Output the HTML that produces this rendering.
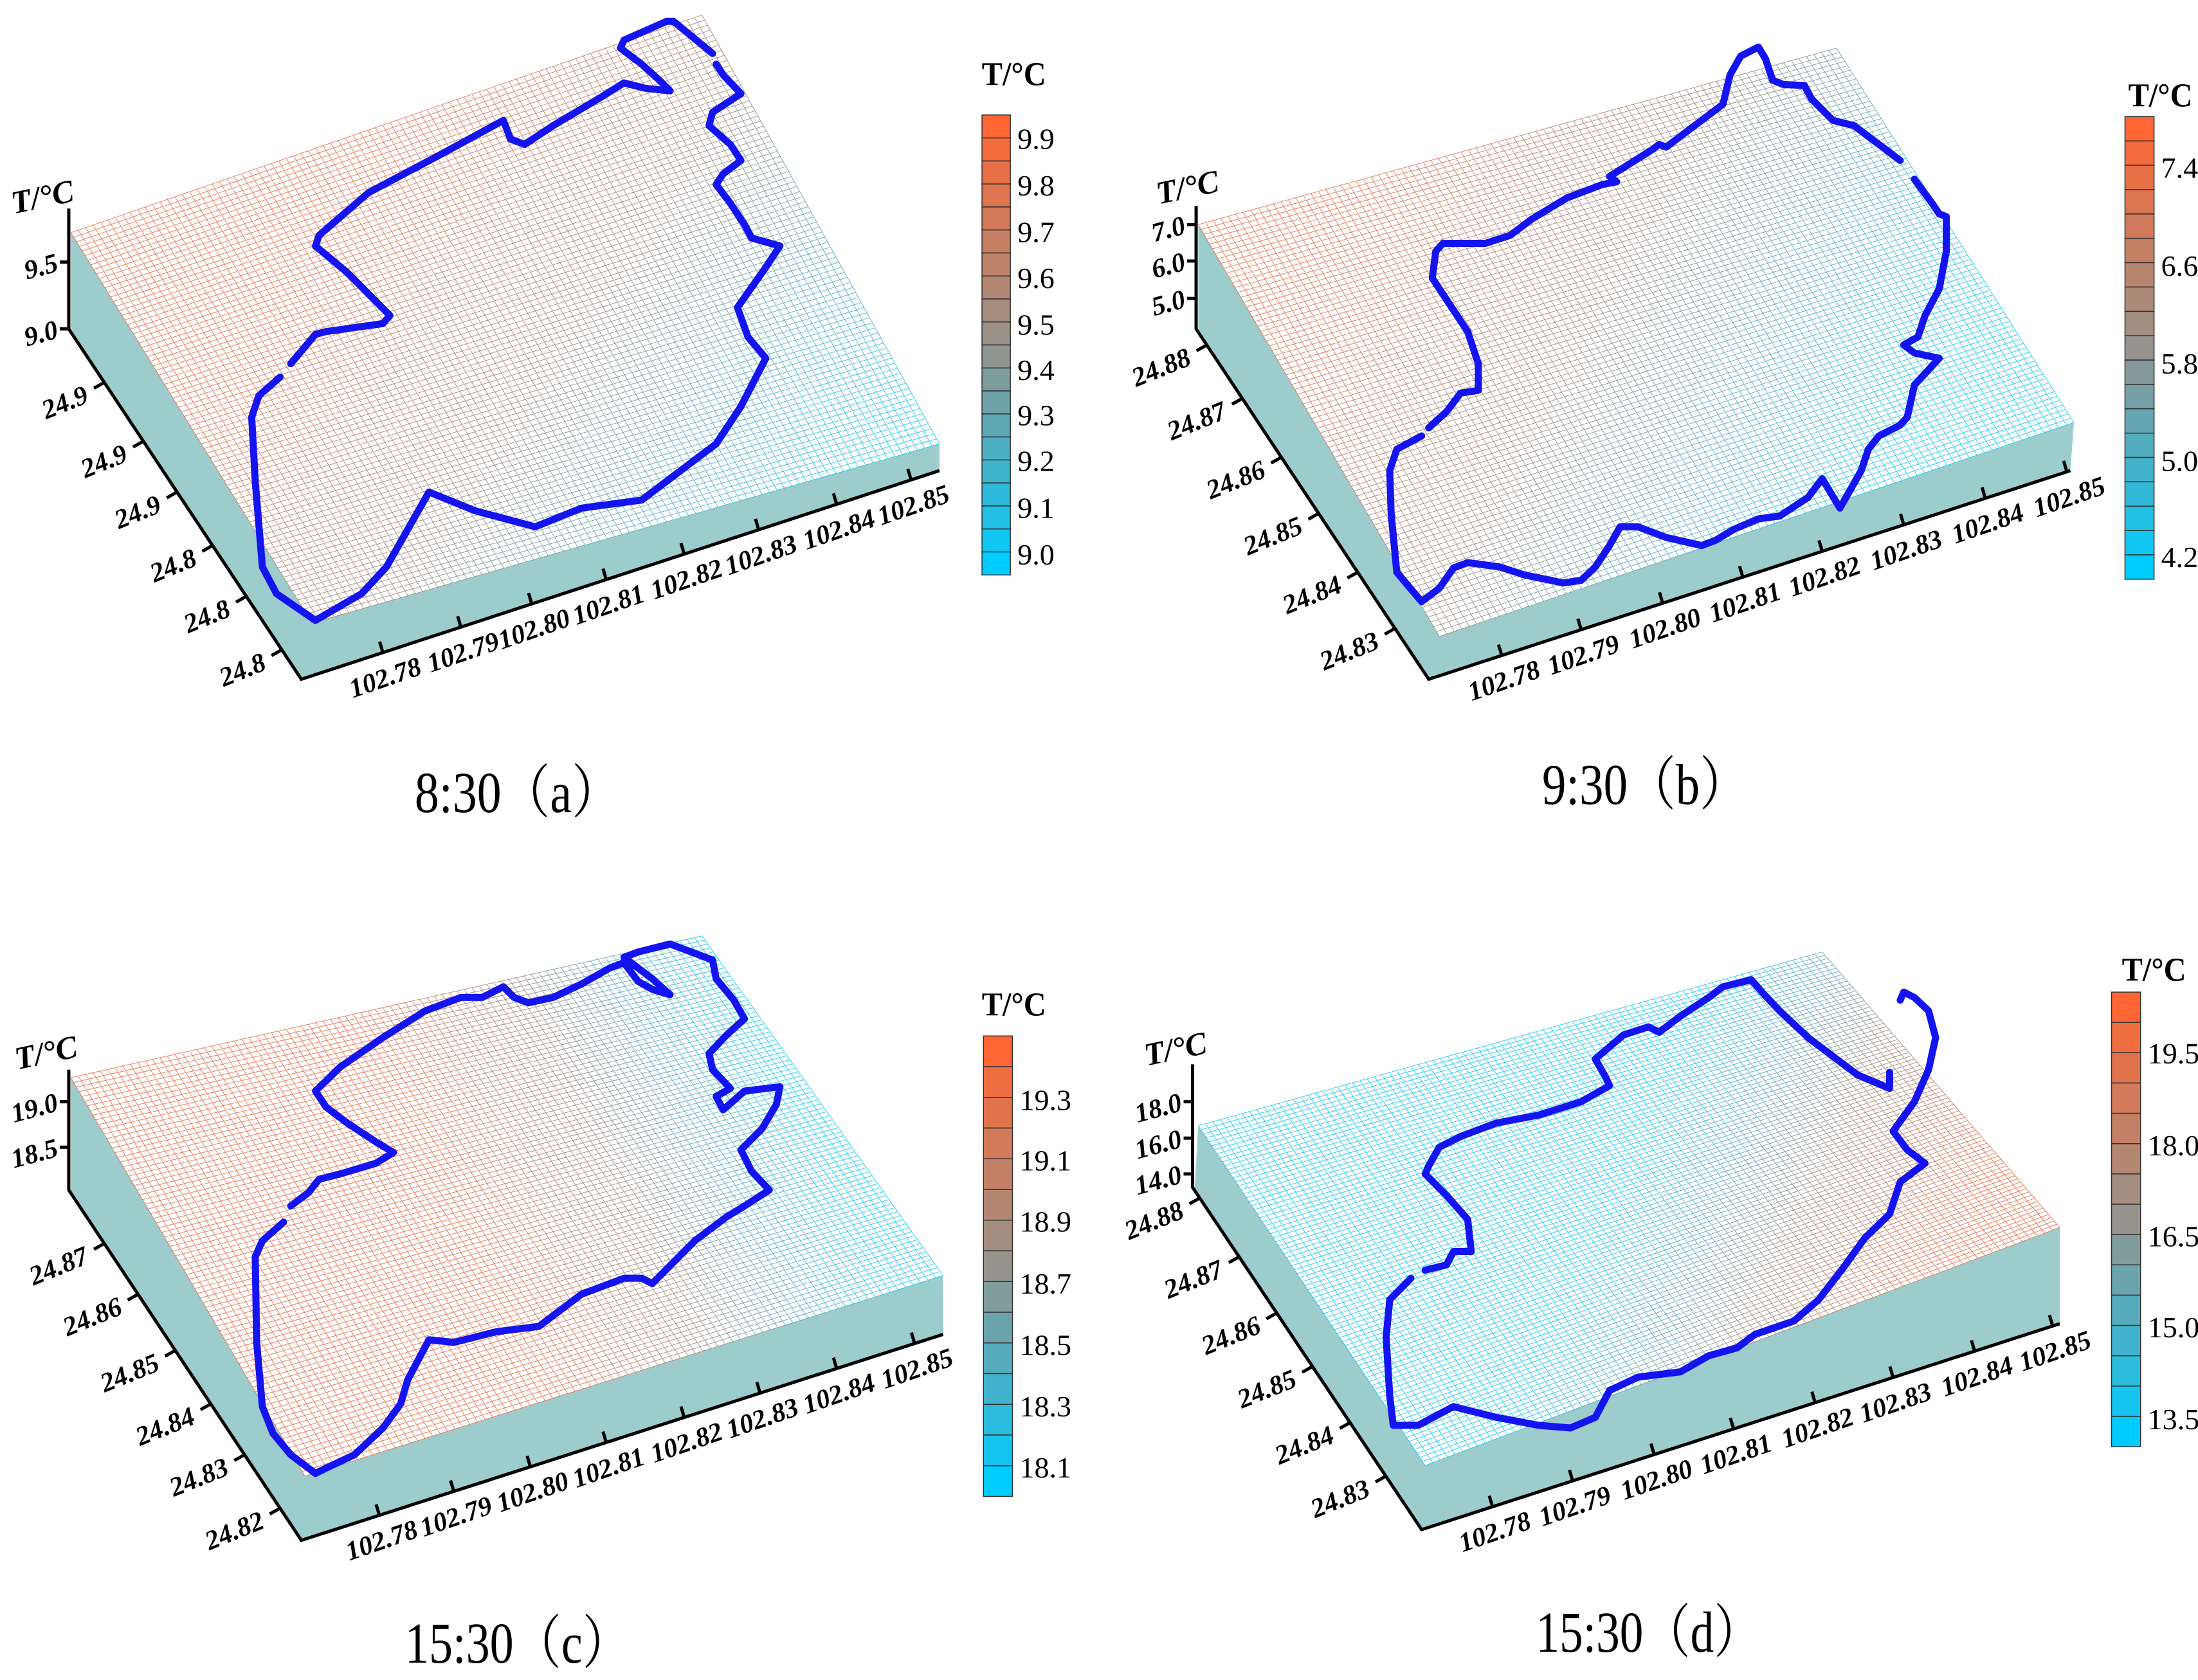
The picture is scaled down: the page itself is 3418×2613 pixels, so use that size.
<!DOCTYPE html>
<html><head><meta charset="utf-8"><style>
html,body{margin:0;padding:0;background:#fff}
svg{display:block}
</style></head><body>
<svg id="fig" xmlns="http://www.w3.org/2000/svg" width="3418" height="2613" viewBox="0 0 3418 2613">
<rect width="3418" height="2613" fill="#fff"/>
<defs id="defs"></defs>
</svg>
<script>
// ---- data (loop points, in panel-local picture units) ----
const loopA=[[940,40],[880,75],[875,90],[905,120],[930,150],[945,170],[910,165],[880,155],[850,180],[780,235],[740,270],[720,260],[710,225],[620,290],[520,360],[450,440],[445,460],[490,510],[550,590],[540,605],[460,620],[445,625],[410,680],null,[395,705],[365,740],[355,780],[360,900],[370,1060],[390,1110],[445,1160],[510,1110],[545,1060],[605,920],[670,955],[755,985],[820,950],[905,935],[960,880],[1010,830],[1045,760],[1080,670],[1055,630],[1040,575],[1080,500],[1100,460],[1060,445],[1050,420],[1030,380],[1010,345],[1020,325],[1045,300],[1030,270],[1000,235],[1005,210],[1045,175],[1020,140],[1010,120],null,[1005,100],[950,40],[940,40]];
const loopB=[[455,1125],[420,1070],[412,960],[410,880],[420,840],[455,815],null,[465,800],[490,770],[510,735],[535,730],[535,680],[520,620],[490,560],[470,520],[475,470],[485,455],[545,455],[580,440],[610,410],[660,370],[710,345],[730,340],[720,330],[780,280],[790,270],[800,275],[830,245],[880,195],[890,140],[905,105],[930,88],[940,110],[950,150],[965,158],[995,160],[1005,185],[1035,225],[1065,235],[1080,250],[1130,300],null,[1150,335],[1175,380],[1185,400],[1195,405],[1195,470],[1185,540],[1165,590],[1155,630],[1135,645],[1150,660],[1185,670],[1150,720],[1140,780],[1130,795],[1100,815],[1085,840],[1075,880],[1045,950],[1020,895],[1000,930],[960,965],[930,970],[895,990],[870,1010],[850,1020],[800,1005],[760,985],[735,985],[720,1020],[700,1060],[680,1085],[655,1090],[600,1075],[565,1060],[520,1052],[500,1062],[480,1100],[455,1125]];
const loopC=[[445,1185],[410,1150],[385,1110],[370,1060],[362,940],[360,780],[370,750],[400,715],null,[410,685],[435,660],[450,635],[480,625],[530,605],[555,585],[530,565],[490,530],[460,500],[445,470],[480,425],[540,370],[600,320],[650,295],[680,295],[710,275],[725,295],[745,305],[780,295],[820,270],[860,240],[880,230],[900,265],[920,280],[945,290],[920,260],[880,220],[900,210],[945,195],[965,205],[1005,225],[1010,260],[1035,300],[1050,335],[1025,365],[1000,400],[1005,430],[1030,465],[1010,480],[1020,505],[1050,470],[1100,462],[1095,495],[1075,540],[1045,580],[1060,620],[1085,655],[1050,685],[1025,705],[980,750],[920,830],[905,820],[880,820],[820,850],[760,910],[700,920],[640,940],[605,935],[595,960],[575,1010],[565,1055],[540,1100],[500,1150],[460,1175],[445,1185]];
const loopD=[[1115,435],[1115,465],[1070,440],[1040,410],[1000,370],[960,320],[935,285],[920,262],[880,275],[860,295],[820,330],[790,360],[775,350],[740,365],[700,410],[715,445],[720,460],[680,490],[620,515],[560,530],[510,555],[480,575],[465,610],[460,625],[490,665],[520,710],[525,770],[500,770],[490,795],[460,805],null,[440,820],[410,860],[405,930],[410,1040],[415,1095],[450,1095],[500,1060],[560,1080],[620,1095],[665,1100],[700,1080],[720,1030],[760,1005],[820,995],[860,965],[900,950],[925,925],[980,900],[1015,860],[1050,800],[1080,745],[1115,700],[1130,640],[1165,605],[1140,580],[1120,545],[1150,490],[1170,430],[1180,370],[1170,320],[1150,295],[1135,285],[1130,300]];
const lonTicks=["102.78","102.79","102.80","102.81","102.82","102.83","102.84","102.85"];
const latTicksA=["24.9","24.9","24.9","24.8","24.8","24.8"];
const latTicksB=["24.88","24.87","24.86","24.85","24.84","24.83"];
const latTicksC=["24.87","24.86","24.85","24.84","24.83","24.82"];
const latTicksD=["24.88","24.87","24.86","24.85","24.84","24.83"];
const zTicksA=["9.5","9.0"], zTicksB=["7.0","6.0","5.0"], zTicksC=["19.0","18.5"], zTicksD=["18.0","16.0","14.0"];
const cbarA=["9.9","9.8","9.7","9.6","9.5","9.4","9.3","9.2","9.1","9.0"];
const cbarB=["7.4","6.6","5.8","5.0","4.2"];
const cbarC=["19.3","19.1","18.9","18.7","18.5","18.3","18.1"];
const cbarD=["19.5","18.0","16.5","15.0","13.5"];
const captions=["8:30（a）","9:30（b）","15:30（c）","15:30（d）"];

// ---- layout ----
const SX=1709/1550, SY=1306/1570, NS="http://www.w3.org/2000/svg";
const svg=document.getElementById('fig'), defs=document.getElementById('defs');
function mk(tag,attrs,parent){const e=document.createElementNS(NS,tag);for(const k in attrs)e.setAttribute(k,attrs[k]);(parent||svg).appendChild(e);return e;}
const panels=[
 {id:'a',o:[0,0],L:[100,435],B:[440,1165],R:[1325,830],T:[990,28],SL:[100,615],SB:[425,1270],SR:[1325,880],vTop:390,zY:[490,615],latY:[715,825,920,1020,1115,1215],lonX:[540,650,750,855,965,1070,1180,1285],
  cb:[1385,215,1425,1075],cbN:20,cbY:[258,345,432,518,605,690,775,860,948,1035],cbT:[1430,135],ttl:[60,370],cap:[730,1480],g:[[500,300],[1200,950]],loop:loopA,lat:latTicksA,z:zTicksA,cbl:cbarA},
 {id:'b',o:[1709,0],L:[140,420],B:[480,1190],R:[1375,790],T:[1040,90],SL:[140,615],SB:[465,1270],SR:[1370,880],vTop:385,zY:[420,488,558],latY:[645,745,855,960,1070,1175],lonX:[568,680,795,908,1020,1135,1250,1365],
  cb:[1447,218,1488,1083],cbN:19,cbY:[312,495,678,860,1040],cbT:[1497,175],ttl:[125,352],cap:[770,1465],g:[[300,400],[1100,950]],loop:loopB,lat:latTicksB,z:zTicksB,cbl:cbarB},
 {id:'c',o:[0,1306],L:[100,445],B:[430,1190],R:[1330,815],T:[990,180],SL:[100,655],SB:[425,1310],SR:[1330,925],vTop:430,zY:[490,575],latY:[755,850,955,1055,1150,1250],lonX:[535,640,748,855,965,1072,1180,1290],
  cb:[1387,367,1428,1228],cbN:15,cbY:[485,598,712,828,943,1058,1172],cbT:[1430,305],ttl:[65,400],cap:[730,1500],g:[[620,680],[1080,360]],loop:loopC,lat:latTicksC,z:zTicksC,cbl:cbarC},
 {id:'d',o:[1709,1306],L:[140,535],B:[460,1170],R:[1355,725],T:[1020,210],SL:[135,650],SB:[455,1290],SR:[1355,905],vTop:420,zY:[490,558,625],latY:[670,780,885,985,1090,1190],lonX:[555,668,783,895,1010,1120,1235,1345],
  cb:[1428,285,1469,1135],cbN:15,cbY:[398,570,740,910,1082],cbT:[1488,240],ttl:[108,393],cap:[775,1480],g:[[1250,640],[820,380]],loop:loopD,lat:latTicksD,z:zTicksD,cbl:cbarD}
];
function lerp(a,b,t){return [a[0]+(b[0]-a[0])*t,a[1]+(b[1]-a[1])*t];}
function mixc(c1,c2,t){return 'rgb('+c1.map((v,i)=>Math.round(v+(c2[i]-v)*t)).join(',')+')';}
const WARM=[255,102,51], MID=[150,148,140], COOL=[0,204,255];
function cmap(t){return t<0.5?mixc(WARM,MID,t*2):mixc(MID,COOL,(t-0.5)*2);}
const SERIF='"Liberation Serif","DejaVu Serif",serif';

panels.forEach(p=>{
 const P=(z)=>[p.o[0]+z[0]*SX,p.o[1]+z[1]*SY];
 const pts=a=>a.map(z=>P(z).join(',')).join(' ');
 const g=mk('g',{});  
 const gr=mk('linearGradient',{id:'grad'+p.id,gradientUnits:'userSpaceOnUse',x1:P(p.g[0])[0],y1:P(p.g[0])[1],x2:P(p.g[1])[0],y2:P(p.g[1])[1]},defs);
 [[0,'rgb(230,95,55)'],[0.5,'rgb(135,130,125)'],[1,'rgb(0,195,240)']].forEach(s=>mk('stop',{offset:s[0],'stop-color':s[1]},gr));
 const slab=mk('polygon',{points:pts([p.L,p.SL,p.SB,p.SR,p.R,p.B]),fill:'#9ccccc'},g);
  
 const mesh=mk('g',{stroke:'url(#grad'+p.id+')','stroke-width':1,'stroke-opacity':0.8,fill:'none'},g);
  
 mk('polygon',{points:pts([p.L,p.B,p.R,p.T]),fill:'#fff',stroke:'none'},mesh);
 const N=85; let d='';
 for(let i=0;i<=N;i++){const t=i/N;
  let a=P(lerp(p.L,p.B,t)),b=P(lerp(p.T,p.R,t)); d+='M'+a[0].toFixed(1)+' '+a[1].toFixed(1)+'L'+b[0].toFixed(1)+' '+b[1].toFixed(1);
  a=P(lerp(p.L,p.T,t));b=P(lerp(p.B,p.R,t)); d+='M'+a[0].toFixed(1)+' '+a[1].toFixed(1)+'L'+b[0].toFixed(1)+' '+b[1].toFixed(1);}
 mk('path',{d:d},mesh);
 let ld='',pen=false;
 p.loop.forEach(z=>{if(!z){pen=false;return;}const q=P(z);ld+=(pen?'L':'M')+q[0].toFixed(1)+' '+q[1].toFixed(1);pen=true;});
 const lp=mk('path',{d:ld,fill:'none',stroke:'#1414f0','stroke-width':11,'stroke-linejoin':'round','stroke-linecap':'round'},g);
  
 const ax=mk('g',{stroke:'#000','stroke-width':5,fill:'none'},g);
  
 const v0=P([p.SL[0]-3,p.vTop]),v1=P([p.SL[0]-3,p.SL[1]]),b0=P(p.SB),b1=P(p.SR);
 mk('polyline',{points:[v0,v1,b0,b1].map(q=>q.join(',')).join(' ')},ax);
 const tf='font-family:'+SERIF+';font-weight:bold;font-style:italic;font-size:42px';
 p.zY.forEach((y,i)=>{const q=P([p.SL[0]-3,y]);mk('line',{x1:q[0],y1:q[1],x2:q[0]-14,y2:q[1]},ax);
  const t=mk('text',{x:q[0]-18,y:q[1]+14,'text-anchor':'end',transform:'rotate(-15 '+(q[0]-18)+' '+q[1]+')',style:tf},g);t.textContent=p.z[i];
   });
 const dx=b0[0]-v1[0],dy=b0[1]-v1[1];
 p.latY.forEach((y,i)=>{const tt=(y*SY+p.o[1]-v1[1])/dy;const q=[v1[0]+dx*tt,y*SY+p.o[1]];
  mk('line',{x1:q[0],y1:q[1],x2:q[0]-16,y2:q[1]+9},ax);
  const tx=q[0]-22,ty=q[1]+30;
  const t=mk('text',{x:tx,y:ty,'text-anchor':'end',transform:'rotate(-22 '+tx+' '+ty+')',style:tf},g);t.textContent=p.lat[i];
   });
 const ex=b1[0]-b0[0],ey=b1[1]-b0[1];
 p.lonX.forEach((x,i)=>{const sx=x*SX+p.o[0];const tt=(sx-b0[0])/ex;const q=[sx,b0[1]+ey*tt];
  mk('line',{x1:q[0],y1:q[1],x2:q[0]-5,y2:q[1]-17},ax);
  const tx=q[0]+8,ty=q[1]+52;
  const t=mk('text',{x:tx,y:ty,'text-anchor':'middle',transform:'rotate(-19 '+tx+' '+ty+')',style:tf},g);t.textContent=lonTicks[i];
   });
 const at=P(p.ttl);
 const tl=mk('text',{x:at[0],y:at[1]+15,'text-anchor':'middle',transform:'rotate(-12 '+at[0]+' '+at[1]+')',style:'font-family:'+SERIF+';font-weight:bold;font-style:italic;font-size:50px'},g);
 tl.textContent='T/°C';  
 const c0=P([p.cb[0],p.cb[1]]),c1=P([p.cb[2],p.cb[3]]);
 const cb=mk('g',{},g);  
 const bh=(c1[1]-c0[1])/p.cbN;
 for(let i=0;i<p.cbN;i++){mk('rect',{x:c0[0],y:c0[1]+i*bh,width:c1[0]-c0[0],height:bh,fill:cmap(i/(p.cbN-1)),stroke:'#333','stroke-width':1.5},cb);}
 p.cbY.forEach((y,i)=>{const q=P([p.cb[2]+10,y]);const t=mk('text',{x:q[0],y:q[1]+17,style:'font-family:'+SERIF+';font-size:46px'},cb);t.textContent=p.cbl[i];
   });
 const ct=P(p.cbT);
 const ctt=mk('text',{x:ct[0]-50,y:ct[1]+20,textLength:100,lengthAdjust:'spacingAndGlyphs',style:'font-family:'+SERIF+';font-weight:bold;font-size:52px'},cb);
 ctt.textContent='T/°C';  
 const cp=P(p.cap);
 const len=(captions[panels.indexOf(p)].length>7?350:320);
 const cap=mk('text',{x:cp[0]-len/2,y:cp[1]+32,textLength:len,lengthAdjust:'spacingAndGlyphs',style:'font-family:"Liberation Serif","Noto Serif CJK SC",serif;font-size:90px'},g);
 cap.textContent=captions[panels.indexOf(p)];  
});
</script>
</body></html>
